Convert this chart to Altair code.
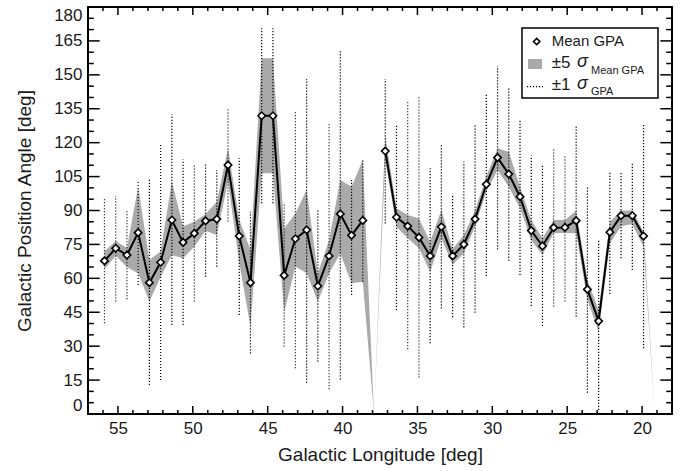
import altair as alt
import pandas as pd
import numpy as np

# ---------------- data ----------------
longitude = [55.9, 55.15, 54.4, 53.65, 52.9, 52.15, 51.4, 50.65, 49.9, 49.15,
             48.4, 47.65, 46.9, 46.15, 45.4, 44.65, 43.9, 43.15, 42.4, 41.65,
             40.9, 40.15, 39.4, 38.65, 37.9, 37.15, 36.4, 35.65, 34.9, 34.15,
             33.4, 32.65, 31.9, 31.15, 30.4, 29.65, 28.9, 28.15, 27.4, 26.65,
             25.9, 25.15, 24.4, 23.65, 22.9, 22.15, 21.4, 20.65, 19.9, 19.15]

mean_gpa = [67.7, 73.3, 70.3, 80.2, 58.1, 67.1, 85.8, 75.9, 79.9, 85.4,
            86.2, 110.1, 78.7, 58.1, 131.9, 131.9, 61.3, 77.5, 81.4, 56.6,
            69.9, 88.5, 79.0, 85.6, None, 116.3, 87.0, 83.1, 78.1, 69.9,
            82.8, 69.9, 75.0, 86.2, 101.6, 113.4, 106.1, 96.1, 81.1, 74.3,
            82.4, 82.5, 85.5, 55.1, 41.1, 80.4, 87.7, 87.7, 78.7, None]

# +-5 sigma of mean (shaded band)
band_lo = [64.0, 70.0, 65.0, 62.2, 49.7, 60.6, 70.3, 68.9, 74.0, 81.0,
           79.2, 102.7, 67.0, 38.6, 106.5, 106.5, 45.0, 65.2, 62.2, 49.7,
           62.2, 71.0, 57.8, 58.5, 0.0, 112.3, 82.8, 77.7, 73.3, 62.9,
           77.7, 66.0, 71.1, 83.0, 98.3, 107.9, 100.5, 91.0, 77.0, 70.3,
           80.0, 80.0, 79.9, 50.4, 36.4, 75.5, 83.0, 84.0, 74.0, 0.0]
band_hi = [72.0, 76.5, 73.4, 100.5, 68.1, 72.0, 102.8, 82.9, 85.0, 88.5,
           93.9, 117.5, 86.0, 72.5, 157.3, 157.3, 82.0, 88.7, 99.1, 62.2,
           77.0, 103.5, 100.5, 112.3, 0.0, 123.4, 91.0, 88.0, 86.5, 76.2,
           90.2, 73.0, 79.2, 90.0, 105.0, 117.5, 116.0, 100.5, 85.8, 77.7,
           85.8, 85.8, 89.9, 59.3, 46.0, 85.0, 90.0, 90.0, 80.6, 0.0]

# +-1 sigma of GPA (dotted bars)
sig_lo = [40.1, 49.7, 50.7, 57.0, 12.8, 15.0, 39.4, 39.4, 49.7, 60.7,
          65.1, 85.1, 43.8, 26.8, 93.2, 93.2, 29.8, 20.2, 13.8, 23.1,
          10.9, 15.3, 52.6, 58.5, None, 84.3, 46.0, 28.6, 16.1, 31.3,
          46.7, 42.8, 38.3, 44.8, 61.0, 72.8, 67.8, 61.5, 47.8, 38.9,
          47.5, 49.7, 43.0, 9.4, 1.8, 53.1, 68.9, 63.7, 29.1, None]
sig_hi = [95.4, 96.4, 90.2, 103.5, 103.9, 119.4, 132.5, 112.6, 110.4, 110.4,
          107.9, 135.2, 113.1, 89.5, 170.6, 170.6, 93.6, 134.1, 148.2, 90.2,
          128.6, 161.0, 103.5, 112.6, None, 148.2, 128.3, 138.1, 140.3, 108.7,
          119.4, 97.3, 111.6, 127.8, 141.8, 153.9, 144.0, 130.0, 114.3, 109.8,
          117.1, 114.6, 127.4, 100.3, 77.0, 107.2, 106.7, 111.5, 127.8, None]

segment = [0] * 24 + [1] * 26

x_major = [55, 50, 45, 40, 35, 30, 25, 20]
x_minor = [v for v in range(19, 57) if v % 5 != 0]
y_major = list(range(0, 181, 15))
y_minor = [v for v in range(5, 180, 5) if v % 15 != 0]

# ---------------- chart ----------------
W, H = 584, 407
FONT = "Liberation Sans"
TXT = "#1a1a1a"

df = pd.DataFrame({
    "lon": longitude, "mean": mean_gpa, "blo": band_lo, "bhi": band_hi,
    "slo": sig_lo, "shi": sig_hi, "seg": segment,
})

xs = alt.Scale(domain=[18, 57], reverse=True, nice=False, zero=False)
ys = alt.Scale(domain=[0, 180], nice=False, zero=False)

xaxis = alt.Axis(values=x_major, format="d", grid=False, ticks=False, tickSize=0,
                 domain=False, labelFont=FONT, labelFontSize=17, labelColor=TXT,
                 labelPadding=6, title="Galactic Longitude [deg]", titleFont=FONT,
                 titleFontSize=19, titleFontWeight="normal", titleColor=TXT,
                 titlePadding=9)
yaxis = alt.Axis(values=y_major, format="d", grid=False, ticks=False, tickSize=0,
                 domain=False, labelFont=FONT, labelFontSize=17, labelColor=TXT,
                 labelPadding=6, labelFlush=True,
                 title="Galactic Position Angle [deg]", titleFont=FONT,
                 titleFontSize=19, titleFontWeight="normal", titleColor=TXT,
                 titlePadding=19)


def X(f):
    return alt.X(f, scale=xs, axis=xaxis)


def Y(f):
    return alt.Y(f, scale=ys, axis=yaxis)


base = alt.Chart(df)

band = base.mark_area(color="#aaaaaa", opacity=1, interpolate="linear").encode(
    x=X("lon:Q"), y=Y("blo:Q"), y2="bhi:Q",
)

sig = base.transform_filter("isValid(datum.slo)").mark_rule(
    color="black", strokeWidth=1.2, strokeDash=[1.2, 1.8]).encode(
    x=X("lon:Q"), y=Y("slo:Q"), y2="shi:Q",
)

line = base.transform_filter("isValid(datum.mean)").mark_line(
    color="black", strokeWidth=2).encode(
    x=X("lon:Q"), y=Y("mean:Q"), detail="seg:N",
)

pts = base.transform_filter("isValid(datum.mean)").mark_point(
    shape="diamond", size=55, filled=True, fill="white", stroke="black",
    strokeWidth=1.6, opacity=1).encode(
    x=X("lon:Q"), y=Y("mean:Q"),
)


def xticks(vals, length):
    d = alt.Chart(pd.DataFrame({"t": vals}))
    bot = d.mark_rule(color="black", strokeWidth=1.5).encode(
        x=X("t:Q"), y=alt.value(H), y2=alt.value(H - length))
    top = d.mark_rule(color="black", strokeWidth=1.5).encode(
        x=X("t:Q"), y=alt.value(0), y2=alt.value(length))
    return [bot, top]


def yticks(vals, length):
    d = alt.Chart(pd.DataFrame({"t": vals}))
    left = d.mark_rule(color="black", strokeWidth=1.5).encode(
        y=Y("t:Q"), x=alt.value(0), x2=alt.value(length))
    right = d.mark_rule(color="black", strokeWidth=1.5).encode(
        y=Y("t:Q"), x=alt.value(W), x2=alt.value(W - length))
    return [left, right]


tick_layers = xticks(x_major, 8) + xticks(x_minor, 4) + yticks(y_major, 11.7) + yticks(y_minor, 5.8)

# ---------------- legend ----------------
one = alt.Chart(pd.DataFrame({"k": [0]}))
LX = 463.7
leg = [
    one.mark_rect(fill="white", stroke="black", strokeWidth=1.5).encode(
        x=alt.value(434), x2=alt.value(570), y=alt.value(21), y2=alt.value(91)),
    one.mark_point(shape="diamond", size=40, filled=True, fill="white", stroke="black",
                   strokeWidth=1.6, opacity=1).encode(x=alt.value(448.7), y=alt.value(34.5)),
    one.mark_text(text="Mean GPA", align="left", baseline="middle", font=FONT,
                  fontSize=15, color=TXT).encode(x=alt.value(LX), y=alt.value(34)),
    one.mark_rect(fill="#aaaaaa").encode(
        x=alt.value(440), x2=alt.value(454), y=alt.value(52), y2=alt.value(62)),
    one.mark_text(text="±5", align="left", baseline="middle", font=FONT,
                  fontSize=17, color=TXT).encode(x=alt.value(LX), y=alt.value(56)),
    one.mark_text(text="σ", align="left", baseline="middle", font=FONT, fontStyle="italic",
                  fontSize=18, color=TXT).encode(x=alt.value(489), y=alt.value(55)),
    one.mark_text(text="Mean GPA", align="left", baseline="middle", font=FONT,
                  fontSize=11, color=TXT).encode(x=alt.value(503), y=alt.value(63.5)),
    one.mark_rule(color="black", strokeWidth=1.2, strokeDash=[1.2, 1.8]).encode(
        x=alt.value(439), x2=alt.value(455), y=alt.value(79.7)),
    one.mark_text(text="±1", align="left", baseline="middle", font=FONT,
                  fontSize=17, color=TXT).encode(x=alt.value(LX), y=alt.value(78)),
    one.mark_text(text="σ", align="left", baseline="middle", font=FONT, fontStyle="italic",
                  fontSize=18, color=TXT).encode(x=alt.value(489), y=alt.value(77)),
    one.mark_text(text="GPA", align="left", baseline="middle", font=FONT,
                  fontSize=11, color=TXT).encode(x=alt.value(503), y=alt.value(85)),
]

chart = alt.layer(band, sig, line, pts, *tick_layers, *leg).properties(
    width=W, height=H,
    autosize=alt.AutoSizeParams(type="none"),
    padding={"left": 88, "top": 7, "right": 18, "bottom": 57},
).configure_view(stroke="black", strokeWidth=2)

chart.save("out.html", embed_options={"renderer": "svg", "actions": False})
